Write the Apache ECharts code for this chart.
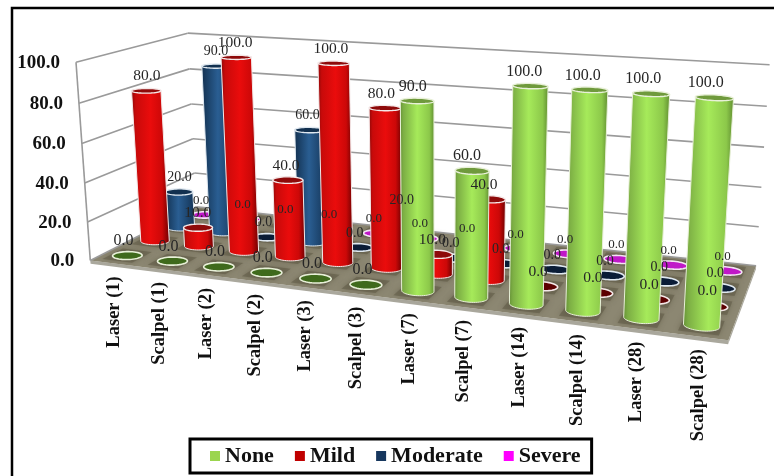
<!DOCTYPE html>
<html><head><meta charset="utf-8">
<style>html,body{margin:0;padding:0;background:#fff}#c{width:774px;height:476px}</style>
<script src="https://cdn.jsdelivr.net/npm/echarts@6/dist/echarts.min.js"></script>
</head><body><div id="c"></div>
<script>
const categories = ['Laser (1)','Scalpel (1)','Laser (2)','Scalpel (2)','Laser (3)','Scalpel (3)','Laser (7)','Scalpel (7)','Laser (14)','Scalpel (14)','Laser (28)','Scalpel (28)'];
const none     = [0,0,0,0,0,0,90,60,100,100,100,100];
const mild     = [80,10,100,40,100,80,10,40,0,0,0,0];
const moderate = [20,90,0,60,0,20,0,0,0,0,0,0];
const severe   = [0,0,0,0,0,0,0,0,0,0,0,0];
const ticks    = [0,20,40,60,80,100];
const seriesNames = ['None','Mild','Moderate','Severe'];

const FONT = '"Liberation Serif","Times New Roman",serif';
// camera calibration: [axis fractions u,v,w] -> screen
const calib = [
 [0,0,0,90,260],[1,0,0,729,342],[0,1,0,197,207],[1,1,0,756,265],
 [0,0,1,77,61],[0,1,1,187,33],[1,1,1,770,65],
 [1/24,.125,0,127,256],[23/24,.125,0,701,324],[23/24,.125,1,714,98],[1/24,.375,.8,146,92]
];
function solveCamera(pts){
  const n=11,A=[],b=[];
  pts.forEach(([u,v,w,x,y])=>{
    A.push([u,v,w,1,0,0,0,0,-x*u,-x*v,-x*w]);b.push(x);
    A.push([0,0,0,0,u,v,w,1,-y*u,-y*v,-y*w]);b.push(y);
  });
  const M=[];
  for(let i=0;i<n;i++){const r=[];for(let j=0;j<n;j++){let s=0;A.forEach(a=>s+=a[i]*a[j]);r.push(s);}
    let s=0;A.forEach((a,k)=>s+=a[i]*b[k]);r.push(s);M.push(r);}
  for(let i=0;i<n;i++){let p=i;for(let k=i+1;k<n;k++)if(Math.abs(M[k][i])>Math.abs(M[p][i]))p=k;
    [M[i],M[p]]=[M[p],M[i]];
    for(let k=0;k<n;k++){if(k===i)continue;const f=M[k][i]/M[i][i];for(let j=i;j<=n;j++)M[k][j]-=f*M[i][j];}}
  return M.map((r,i)=>r[n]/r[i]);
}
const P=solveCamera(calib);
function proj(u,v,w){const d=P[8]*u+P[9]*v+P[10]*w+1;
  return [(P[0]*u+P[1]*v+P[2]*w+P[3])/d,(P[4]*u+P[5]*v+P[6]*w+P[7])/d];}

const RU=0.0245,RV=0.06;
function circle(u,v,w){const a=[];for(let i=0;i<48;i++){const t=i/48*Math.PI*2;a.push(proj(u+RU*Math.cos(t),v+RV*Math.sin(t),w));}return a;}
function toUW(api,params,cat,val){const c=api.coord([cat,val]),s=params.coordSys;return [(c[0]-s.x)/s.width,(s.y+s.height-c[1])/s.height];}
function rowV(i){return (i+.5)/4;}

const looks=[
 {stops:[[0,'#648f36'],[.1,'#7cae44'],[.5,'#a6ea5a'],[.85,'#8cc84a'],[1,'#5f8c30']],top:'#6f9a3c',flat:'#3f6a1c',edge:'#e8f0d8'},
 {stops:[[0,'#8a0808'],[.12,'#c80a0a'],[.5,'#ea0c0c'],[.8,'#cc0808'],[1,'#6a0000']],top:'#8e0a0a',flat:'#5c0000',edge:'#f4e8e8'},
 {stops:[[0,'#12304f'],[.45,'#2a5e92'],[1,'#133253']],top:'#12304f',flat:'#0a1c36',edge:'#dfe8f0'},
 {stops:[[0,'#a010a0'],[.5,'#e020e0'],[1,'#a010a0']],top:'#c018c8',flat:'#c018c8',edge:'#f4e4f4'}
];
function barRenderer(idx){
  const L=looks[idx],v=rowV(idx);
  const grad=new echarts.graphic.LinearGradient(0,0,1,0,L.stops.map(s=>({offset:s[0],color:s[1]})));
  return function(params,api){
    const cat=api.value(0),val=api.value(1);
    const [u,w]=toUW(api,params,cat,val);
    const top=circle(u,v,w),children=[];
    if(val>0){
      const base=circle(u,v,0);
      let li=0,ri=0;base.forEach((p,i)=>{if(p[0]<base[li][0])li=i;if(p[0]>base[ri][0])ri=i;});
      let tl=0,tr=0;top.forEach((p,i)=>{if(p[0]<top[tl][0])tl=i;if(p[0]>top[tr][0])tr=i;});
      const pts=[top[tl],top[tr]];
      // front arc of the base, right extreme to left extreme via the lowest side
      const N=base.length,fw=[],bw=[];
      for(let i=ri;;i=(i+1)%N){fw.push(base[i]);if(i===li)break;}
      for(let i=ri;;i=(i-1+N)%N){bw.push(base[i]);if(i===li)break;}
      const avg=a=>a.reduce((s,p)=>s+p[1],0)/a.length;
      (avg(fw)>avg(bw)?fw:bw).forEach(p=>pts.push(p));
      children.push({type:'polygon',shape:{points:pts},style:{fill:grad,stroke:L.edge,lineWidth:1}});
    }
    children.push({type:'polygon',shape:{points:top},style:{fill:val>0?L.top:L.flat,stroke:L.edge,lineWidth:val>0?1.4:1.6}});
    return {type:'group',children};
  };
}
function walls(params,api){
  const children=[];
  const wallLine=(a,b)=>({type:'polyline',shape:{points:[a,b]},style:{stroke:'#9a9a9a',lineWidth:1.6,fill:null}});
  const [,w]=toUW(api,params,0,api.value(1));
  children.push(wallLine(proj(0,0,w),proj(0,1,w)));
  children.push(wallLine(proj(0,1,w),proj(1,1,w)));
  if(w===0) children.push(wallLine(proj(0,0,0),proj(0,0,1)));
  children.push({type:'text',x:proj(0,0,w)[0]-16,y:proj(0,0,w)[1]+1,
    style:{text:api.value(1).toFixed(1),align:'right',verticalAlign:'middle',font:'bold 19px '+FONT,fill:'#111'}});
  return {type:'group',children};
}
function floor(params,api){
  const D=-0.018,children=[];
  children.push({type:'polygon',shape:{points:[proj(0,0,0),proj(1,0,0),proj(1,0,D),proj(0,0,D)]},style:{fill:'#aaa89d'}});
  children.push({type:'polygon',shape:{points:[proj(1,0,0),proj(1,1,0),proj(1,1,D),proj(1,0,D)]},style:{fill:'#aaa89d'}});
  children.push({type:'polygon',shape:{points:[proj(0,0,0),proj(1,0,0),proj(1,1,0),proj(0,1,0)]},style:{fill:'#8c8772'}});
  for(let c=0;c<categories.length;c++)for(let r=0;r<4;r++){
    const u0=(c+.17)/12,u1=(c+.83)/12,v0=(r+.15)/4,v1=(r+.85)/4;
    children.push({type:'polygon',shape:{points:[proj(u0,v0,0),proj(u1,v0,0),proj(u1,v1,0),proj(u0,v1,0)]},
      style:{fill:'#5f5a45',opacity:.55,shadowBlur:5,shadowColor:'#5f5a45'}});
  }
  return {type:'group',children};
}
function catLabel(params,api){
  const [u]=toUW(api,params,api.value(0),0),p=proj(u,0,0);
  return {type:'text',x:p[0]+1,y:p[1]+13,rotation:Math.PI/2,
    style:{text:categories[api.value(0)],align:'right',verticalAlign:'middle',font:'bold 18.5px '+FONT,fill:'#111'}};
}
const labelSize=[16,15.5,14,13];
function valueLabel(params,api){
  const cat=api.value(0),val=api.value(1),r=api.value(2);
  const [u,w]=toUW(api,params,cat,val),p=proj(u,rowV(r),w);
  const dx=val>0?1-10*u:-4+u;
  return {type:'text',x:p[0]+dx,y:p[1]-14.5,
    style:{text:val.toFixed(1),align:'center',verticalAlign:'middle',font:labelSize[r]+'px '+FONT,fill:'#262626'}};
}

const arrays=[none,mild,moderate,severe];
const legendColors=['#9bd54e','#c00000','#17375e','#ff00ff'];
const labelRows=[];
arrays.forEach((arr,r)=>arr.forEach((v,c)=>labelRows.push([c,v,r])));
const common={type:'custom',coordinateSystem:'cartesian2d',silent:true,animation:false};
const series=[
 {...common,name:'floor',z:1,data:[[0,0]],renderItem:floor,encode:{x:0,y:1}},
 {...common,name:'walls',z:2,data:ticks.map(t=>[0,t]),renderItem:walls,encode:{x:0,y:1}},
 {...common,name:'cats',z:2,data:categories.map((c,i)=>[i,0]),renderItem:catLabel,encode:{x:0,y:1}}
];
for(let r=3;r>=0;r--){
  series.push({...common,name:seriesNames[r],z:10-r,itemStyle:{color:legendColors[r]},
    data:arrays[r].map((v,c)=>[c,v]),renderItem:barRenderer(r),encode:{x:0,y:1}});
}
series.push({...common,name:'values',z:20,data:labelRows,renderItem:valueLabel,encode:{x:0,y:1}});

const chart=echarts.init(document.getElementById('c'),null,{renderer:'canvas'});
chart.setOption({
  animation:false,backgroundColor:'#fff',
  grid:{left:0,right:0,top:0,bottom:0},
  xAxis:{type:'category',data:categories,show:false},
  yAxis:{type:'value',min:0,max:100,interval:20,show:false},
  legend:{data:seriesNames,left:190,top:439,icon:'rect',itemWidth:10,itemHeight:10,itemGap:21,
    padding:[6,11,6,20],backgroundColor:'#fff',borderColor:'#000',borderWidth:3,
    textStyle:{fontFamily:FONT,fontWeight:'bold',fontSize:22,color:'#111'},selectedMode:false},
  graphic:[{type:'polyline',silent:true,z:0,shape:{points:[[12,476],[12,8],[774,8]]},style:{stroke:'#000',lineWidth:2.5,fill:null}}],
  series
});
</script></body></html>
